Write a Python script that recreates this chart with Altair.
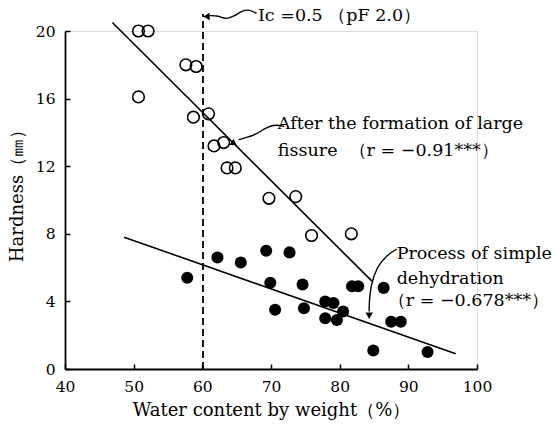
import altair as alt
import pandas as pd

# ---- data ----
open_x = [50.7, 52.1, 50.7, 57.6, 59.1, 58.7, 60.9, 61.7, 63.1, 63.6, 64.8, 69.7, 73.6, 75.9, 81.7]
open_y = [20.0, 20.0, 16.1, 18.0, 17.9, 14.9, 15.1, 13.2, 13.4, 11.9, 11.9, 10.1, 10.2, 7.9, 8.0]

filled_x = [57.8, 62.2, 65.6, 69.3, 72.7, 69.9, 74.6, 70.6, 74.8, 77.9, 79.1, 80.5, 77.9, 79.6,
            81.8, 82.7, 86.4, 87.5, 88.9, 84.9, 92.8]
filled_y = [5.4, 6.6, 6.3, 7.0, 6.9, 5.1, 5.0, 3.5, 3.6, 4.0, 3.9, 3.4, 3.0, 2.9,
            4.9, 4.9, 4.8, 2.8, 2.8, 1.1, 1.0]

# regression lines (end points)
fit_group = ["fissure", "fissure", "dehydration", "dehydration"]
fit_x = [46.9, 84.7, 48.6, 96.9]
fit_y = [20.5, 5.2, 7.8, 0.9]

# Ic = 0.5 boundary
ic_x = [60.1]
ic_y0 = [0.0]
ic_y1 = [21.0]

x_ticks = [40, 50, 60, 70, 80, 90, 100]
y_ticks = [0, 4, 8, 12, 16, 20]

NB = "\u00a0"
# annotation texts
ann_text = ["Ic" + NB + "=0.5" + NB + "\uff08pF" + NB + "2.0\uff09",
            "After the formation of large",
            "fissure" + NB * 2 + "\uff08r" + NB + "=" + NB + "\u22120.91***\uff09",
            "Process of simple",
            "dehydration",
            "\uff08r" + NB + "=" + NB + "\u22120.678***\uff09"]
ann_x = [68.1, 71.0, 71.0, 88.3, 88.3, 87.0]
ann_y = [20.86, 14.47, 12.87, 6.78, 5.30, 4.05]

# leader (arrow) curves
lead_group = ["ic"] * 7 + ["fis"] * 6 + ["pro"] * 6
lead_x = [67.9, 66.9, 65.8, 64.6, 63.4, 62.3, 61.1,
          71.9, 70.7, 69.3, 67.8, 66.4, 65.3,
          88.3, 86.9, 85.4, 84.5, 84.3, 84.3]
lead_y = [21.04, 21.27, 21.21, 20.86, 20.68, 20.91, 20.91,
          14.35, 14.47, 14.29, 13.87, 13.70, 13.57,
          7.10, 6.75, 6.05, 4.91, 3.90, 3.40]

head_x = [60.6, 64.5, 84.3]
head_y = [20.86, 13.37, 3.15]
head_shape = ["triangle-left", "triangle", "triangle-down"]
head_angle = [0, 242, 0]

SERIF = "DejaVu Serif"

xs = alt.Scale(domain=[40, 100], nice=False, zero=False)
ys = alt.Scale(domain=[0, 20], nice=False, zero=False)

open_df = pd.DataFrame({"x": open_x, "y": open_y})
filled_df = pd.DataFrame({"x": filled_x, "y": filled_y})
fit_df = pd.DataFrame({"g": fit_group, "x": fit_x, "y": fit_y})
ic_df = pd.DataFrame({"x": ic_x, "y": ic_y0, "y2": ic_y1})
ann_df = pd.DataFrame({"t": ann_text, "x": ann_x, "y": ann_y})
lead_df = pd.DataFrame({"g": lead_group, "x": lead_x, "y": lead_y, "i": list(range(len(lead_x)))})
head_df = pd.DataFrame({"x": head_x, "y": head_y, "s": head_shape, "a": head_angle})

x_axis = alt.Axis(values=x_ticks, title="Water content by weight\uff08%\uff09", grid=False,
                  labelFont=SERIF, labelFontSize=15.5, labelColor="black",
                  titleFont=SERIF, titleFontSize=18, titleFontWeight="normal", titleColor="black",
                  tickSize={"expr": "-5"}, tickColor="black", tickWidth=1.5,
                  domainColor="black", domainWidth=1.8, labelPadding=15, titlePadding=7,
                  labelFlush=False)
y_axis = alt.Axis(values=y_ticks, title="Hardness\uff08\u339c\uff09", grid=False,
                  labelFont=SERIF, labelFontSize=15.5, labelColor="black",
                  titleFont=SERIF, titleFontSize=18, titleFontWeight="normal", titleColor="black",
                  tickSize={"expr": "-5"}, tickColor="black", tickWidth=1.5,
                  domainColor="black", domainWidth=1.8, labelPadding=15, titlePadding=9,
                  titleY=160, labelFlush=False)

base_x = alt.X("x:Q", scale=xs, axis=x_axis)
base_y = alt.Y("y:Q", scale=ys, axis=y_axis)

open_pts = alt.Chart(open_df).mark_point(shape="circle", filled=False, size=135,
                                          strokeWidth=1.6, color="black", opacity=1).encode(x=base_x, y=base_y)
filled_pts = alt.Chart(filled_df).mark_circle(size=145, color="black", opacity=1).encode(
    x=alt.X("x:Q", scale=xs), y=alt.Y("y:Q", scale=ys))
fits = alt.Chart(fit_df).mark_line(color="black", strokeWidth=1.6).encode(
    x=alt.X("x:Q", scale=xs), y=alt.Y("y:Q", scale=ys), detail="g:N")
ic_rule = alt.Chart(ic_df).mark_rule(color="black", strokeWidth=1.8, strokeDash=[7, 4]).encode(
    x=alt.X("x:Q", scale=xs), y=alt.Y("y:Q", scale=ys), y2="y2:Q")
leads = alt.Chart(lead_df).mark_line(color="black", strokeWidth=1.4, interpolate="basis").encode(
    x=alt.X("x:Q", scale=xs), y=alt.Y("y:Q", scale=ys), detail="g:N", order="i:Q")
heads = alt.Chart(head_df).mark_point(filled=True, color="black", opacity=1, size=55).encode(
    x=alt.X("x:Q", scale=xs), y=alt.Y("y:Q", scale=ys),
    shape=alt.Shape("s:N", scale=None), angle=alt.Angle("a:Q", scale=None))
texts = alt.Chart(ann_df).mark_text(align="left", baseline="middle", font=SERIF, fontSize=17.5,
                                    color="black").encode(
    x=alt.X("x:Q", scale=xs), y=alt.Y("y:Q", scale=ys), text="t:N")

chart = alt.layer(open_pts, filled_pts, fits, ic_rule, leads, heads, texts).properties(
    width=412, height=338,
    autosize=alt.AutoSizeParams(type="none"),
    padding={"left": 65, "top": 31, "right": 82, "bottom": 59},
).configure_view(stroke=None).configure(background="white")

chart.save("out.html", embed_options={"renderer": "svg", "actions": False})
